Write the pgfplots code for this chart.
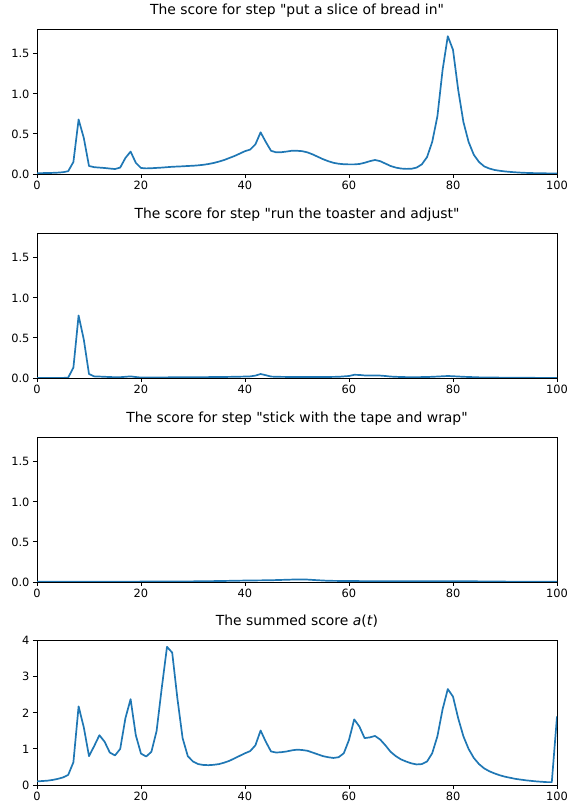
\documentclass[border=0pt]{standalone}
\usepackage{fontspec}
\setmainfont{DejaVu Sans}[Ligatures=TeXOff]
\usepackage{pgfplots}
\pgfplotsset{compat=1.18}
\definecolor{tabblue}{HTML}{1F77B4}

\pgfplotsset{
  panel/.style={
    scale only axis,
    width=520pt, height=145pt,
    xmin=0, xmax=100,
    xtick={0,20,40,60,80,100},
    tick align=outside,
    xtick pos=bottom, ytick pos=left,
    major tick length=4pt,
    tick style={black, line width=0.9pt},
    axis line style={line width=0.9pt},
    ticklabel style={font=\fontsize{11.4}{13}\selectfont},
    /pgf/number format/assume math mode=true,
    title style={font=\fontsize{13.9}{16}\selectfont, anchor=base, inner sep=0pt, yshift=8pt},
    cycle list={{tabblue,mark=none}},
    every axis plot/.append style={line width=1.7pt, line join=round},
  },
  step/.style={
    panel, ymin=0, ymax=1.81,
    ytick={0,0.5,1,1.5},
    yticklabel style={/pgf/number format/.cd, fixed, fixed zerofill, precision=1},
  },
}

\begin{document}
\begin{tikzpicture}
\path[use as bounding box] (0,0) rectangle (571pt,804pt);

\begin{axis}[step, at={(37pt,630pt)}, title={The score for step "put a slice of bread in"}]
\addplot coordinates {(0,0.010)(1,0.011)(2,0.012)(3,0.014)(4,0.017)(5,0.022)(6,0.035)(7,0.15)(8,0.68)(9,0.45)(10,0.10)(11,0.085)(12,0.08)(13,0.075)(14,0.068)(15,0.062)(16,0.08)(17,0.20)(18,0.28)(19,0.14)(20,0.075)(21,0.07)(22,0.072)(23,0.076)(24,0.08)(25,0.085)(26,0.09)(27,0.093)(28,0.096)(29,0.10)(30,0.103)(31,0.108)(32,0.115)(33,0.125)(34,0.138)(35,0.155)(36,0.175)(37,0.20)(38,0.225)(39,0.255)(40,0.285)(41,0.305)(42,0.37)(43,0.52)(44,0.40)(45,0.29)(46,0.27)(47,0.272)(48,0.28)(49,0.29)(50,0.29)(51,0.285)(52,0.27)(53,0.245)(54,0.215)(55,0.185)(56,0.16)(57,0.14)(58,0.128)(59,0.122)(60,0.12)(61,0.12)(62,0.125)(63,0.14)(64,0.16)(65,0.175)(66,0.16)(67,0.13)(68,0.10)(69,0.08)(70,0.068)(71,0.064)(72,0.065)(73,0.08)(74,0.12)(75,0.21)(76,0.40)(77,0.72)(78,1.30)(79,1.72)(80,1.55)(81,1.05)(82,0.65)(83,0.40)(84,0.24)(85,0.15)(86,0.095)(87,0.068)(88,0.05)(89,0.04)(90,0.032)(91,0.026)(92,0.021)(93,0.017)(94,0.014)(95,0.012)(96,0.01)(97,0.009)(98,0.008)(99,0.007)(100,0.007)};
\end{axis}

\begin{axis}[step, at={(37pt,426pt)}, title={The score for step "run the toaster and adjust"}]
\addplot coordinates {(0,0)(1,0)(2,0)(3,0)(4,0)(5,0.001)(6,0.005)(7,0.13)(8,0.78)(9,0.48)(10,0.05)(11,0.02)(12,0.018)(13,0.015)(14,0.012)(15,0.01)(16,0.01)(17,0.015)(18,0.02)(19,0.012)(20,0.006)(21,0.006)(22,0.007)(25,0.008)(30,0.01)(35,0.012)(38,0.015)(40,0.018)(41,0.02)(42,0.03)(43,0.05)(44,0.035)(45,0.018)(46,0.015)(50,0.012)(55,0.012)(58,0.015)(60,0.025)(61,0.04)(62,0.038)(63,0.032)(64,0.032)(65,0.032)(66,0.03)(67,0.025)(68,0.018)(70,0.012)(72,0.01)(75,0.012)(77,0.018)(79,0.025)(80,0.022)(82,0.015)(85,0.008)(90,0.004)(95,0.002)(100,0.001)};
\end{axis}

\begin{axis}[step, at={(37pt,222pt)}, title={The score for step "stick with the tape and wrap"}]
\addplot coordinates {(0,0.003)(10,0.004)(20,0.005)(30,0.008)(35,0.012)(40,0.018)(45,0.022)(48,0.028)(50,0.032)(52,0.03)(54,0.022)(56,0.015)(60,0.012)(65,0.01)(70,0.01)(75,0.009)(80,0.01)(85,0.008)(90,0.005)(100,0.003)};
\end{axis}

\begin{axis}[panel, at={(37pt,19pt)}, ymin=0, ymax=4.02, ytick={0,1,2,3,4},
  title={The summed score \textit{a}(\textit{t})}]
\addplot coordinates {(0,0.10)(1,0.11)(2,0.12)(3,0.14)(4,0.17)(5,0.21)(6,0.28)(7,0.63)(8,2.18)(9,1.60)(10,0.80)(11,1.08)(12,1.38)(13,1.20)(14,0.90)(15,0.82)(16,1.00)(17,1.85)(18,2.38)(19,1.38)(20,0.87)(21,0.79)(22,0.92)(23,1.50)(24,2.70)(25,3.83)(26,3.67)(27,2.40)(28,1.30)(29,0.80)(30,0.65)(31,0.58)(32,0.555)(33,0.55)(34,0.56)(35,0.58)(36,0.62)(37,0.67)(38,0.74)(39,0.81)(40,0.88)(41,0.94)(42,1.10)(43,1.51)(44,1.20)(45,0.93)(46,0.90)(47,0.91)(48,0.93)(49,0.96)(50,0.98)(51,0.97)(52,0.95)(53,0.90)(54,0.85)(55,0.80)(56,0.77)(57,0.75)(58,0.77)(59,0.88)(60,1.25)(61,1.82)(62,1.62)(63,1.30)(64,1.32)(65,1.36)(66,1.26)(67,1.10)(68,0.92)(69,0.80)(70,0.71)(71,0.65)(72,0.60)(73,0.57)(74,0.58)(75,0.65)(76,0.88)(77,1.35)(78,2.10)(79,2.66)(80,2.45)(81,1.85)(82,1.35)(83,1.00)(84,0.75)(85,0.58)(86,0.46)(87,0.38)(88,0.32)(89,0.27)(90,0.23)(91,0.20)(92,0.17)(93,0.15)(94,0.13)(95,0.115)(96,0.10)(97,0.09)(98,0.08)(99,0.08)(100,1.90)};
\end{axis}
\end{tikzpicture}
\end{document}
